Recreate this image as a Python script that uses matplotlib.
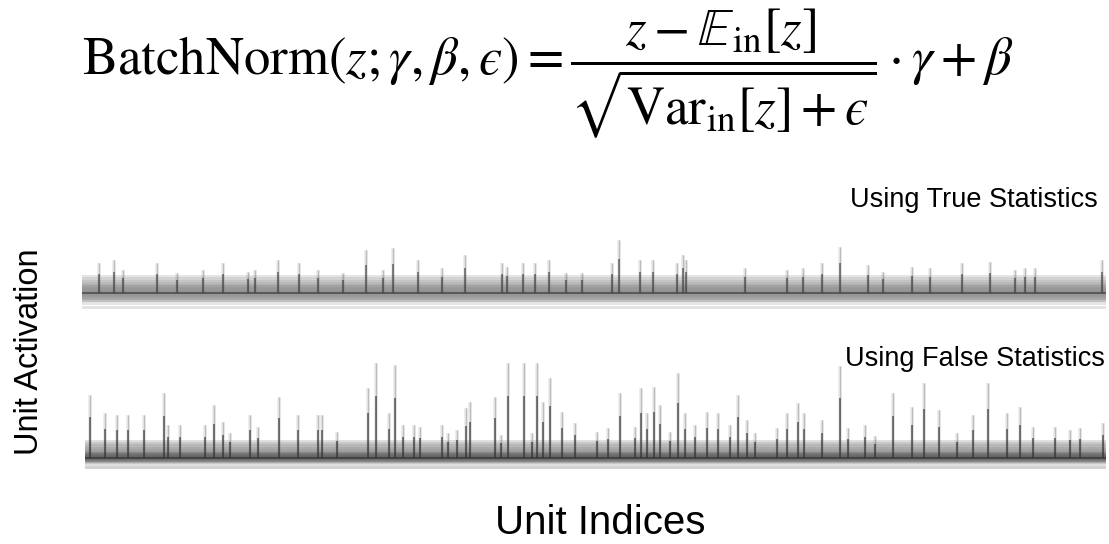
import matplotlib.pyplot as plt
import numpy as np

plt.rcParams['mathtext.fontset'] = 'stix'
plt.rcParams['font.family'] = ['Liberation Sans', 'DejaVu Sans']

# spike positions (unit index) and heights
true_idx = [99, 114, 123, 157, 177, 203, 223, 248, 255, 278, 299, 318, 343, 366, 383,
            393, 418, 442, 465, 502, 507, 523, 535, 549, 566, 582, 612, 619, 640, 653,
            677, 683, 686, 745, 787, 803, 822, 840, 868, 883, 912, 930, 962, 990, 1015,
            1025, 1035, 1102]
true_h = [30, 33, 23, 30, 20, 23, 30, 21, 23, 33, 30, 23, 20, 43, 23,
          45, 33, 25, 38, 30, 26, 30, 30, 33, 20, 20, 30, 53, 33, 33,
          30, 38, 33, 25, 23, 25, 30, 46, 28, 21, 26, 25, 30, 31, 23,
          25, 25, 33]

false_idx = [90, 105, 117, 128, 144, 164, 168, 180, 205, 214, 223, 230, 250, 258, 279,
             298, 318, 322, 337, 368, 376, 389, 395, 403, 414, 420, 442, 448, 457, 466,
             470, 495, 501, 508, 524, 532, 537, 543, 550, 562, 575, 597, 608, 620, 635,
             641, 647, 654, 660, 670, 678, 685, 695, 707, 718, 730, 738, 747, 755, 777,
             787, 798, 804, 822, 840, 848, 865, 875, 893, 912, 924, 939, 957, 973, 988,
             1007, 1020, 1033, 1055, 1070, 1080, 1103]
false_h = [63, 45, 43, 43, 43, 65, 33, 33, 33, 53, 36, 25, 43, 31, 61,
           43, 43, 43, 26, 70, 95, 45, 93, 33, 33, 31, 33, 25, 28, 50,
           56, 61, 23, 95, 95, 25, 95, 56, 80, 46, 35, 26, 30, 65, 31,
           70, 45, 71, 53, 26, 85, 45, 33, 46, 45, 33, 63, 38, 25, 30,
           45, 55, 45, 38, 92, 30, 33, 22, 65, 51, 75, 48, 25, 43, 75,
           45, 51, 31, 31, 28, 30, 35]

W, H = 1109, 544
fig = plt.figure(figsize=(W / 100, H / 100), dpi=100)


def ax_px(x0, y0, x1, y1):
    ax = fig.add_axes([x0 / W, 1 - y1 / H, (x1 - x0) / W, (y1 - y0) / H])
    ax.set_axis_off()
    ax.set_xlim(x0, x1)
    return ax


def fuzzy_band(ax, lo, hi, col, steps=6):
    # soft-edged band: stacked translucent fills
    xs = ax.get_xlim()
    mid = (lo + hi) / 2
    for k in range(steps):
        f = (k + 1) / steps
        ax.fill_between(xs, mid - (mid - lo) * f, mid + (hi - mid) * f,
                        color=col, alpha=1.0 / steps * 1.6, lw=0)


def spikes(ax, idx, h, dark):
    h = np.asarray(h)
    ax.vlines(idx, 0, h, color='#777777', lw=2.6, alpha=0.15)
    ax.vlines(idx, 0, h, color='#555555', lw=1.0, alpha=0.3)
    ax.vlines(idx, 0, h * 0.65, color=dark, lw=1.1, alpha=0.75)


# top panel: true statistics
ax1 = ax_px(82, 235, 1106, 312)
ax1.set_ylim(-19, 58)
xs1 = ax1.get_xlim()
ax1.plot(xs1, [-14, -14], color='#e2e2e2', lw=2)
fuzzy_band(ax1, -12, 18, '#a0a0a0')
fuzzy_band(ax1, -9, 9, '#909090')
spikes(ax1, true_idx, true_h, '#3a3a3a')
ax1.plot(xs1, [0, 0], color='#444444', lw=1.3, alpha=0.8)

# bottom panel: false statistics
ax2 = ax_px(85, 355, 1106, 472)
ax2.set_ylim(-14, 103)
xs2 = ax2.get_xlim()
ax2.plot(xs2, [-9, -9], color='#d0d0d0', lw=2)
fuzzy_band(ax2, -8, 18, '#8a8a8a')
fuzzy_band(ax2, -5, 6, '#555555')
spikes(ax2, false_idx, false_h, '#2a2a2a')
ax2.plot(xs2, [0, 0], color='#333333', lw=1.2, alpha=0.8)

eps = '\N{GREEK LUNATE EPSILON SYMBOL}'
formula = (r'$\mathrm{BatchNorm}(z;\gamma,\beta,' + eps + r')='
           r'\dfrac{z-\mathbb{E}_{\mathrm{in}}[z]}{\sqrt{\mathrm{Var}_{\mathrm{in}}[z]+' + eps + r'}}'
           r'\cdot\gamma+\beta$')
fig.text(548 / W, 1 - 74 / H, formula, ha='center', va='center', fontsize=38)

fig.text(1098 / W, 1 - 200 / H, 'Using True Statistics', ha='right', va='center', fontsize=19.5)
fig.text(1105 / W, 1 - 359 / H, 'Using False Statistics', ha='right', va='center', fontsize=19.5)
fig.text(30 / W, 1 - 352 / H, 'Unit Activation', rotation=90, ha='center', va='center', fontsize=23.5)
fig.text(600 / W, 1 - 523 / H, 'Unit Indices', ha='center', va='center', fontsize=29)

fig.savefig('out.png', dpi=100)
